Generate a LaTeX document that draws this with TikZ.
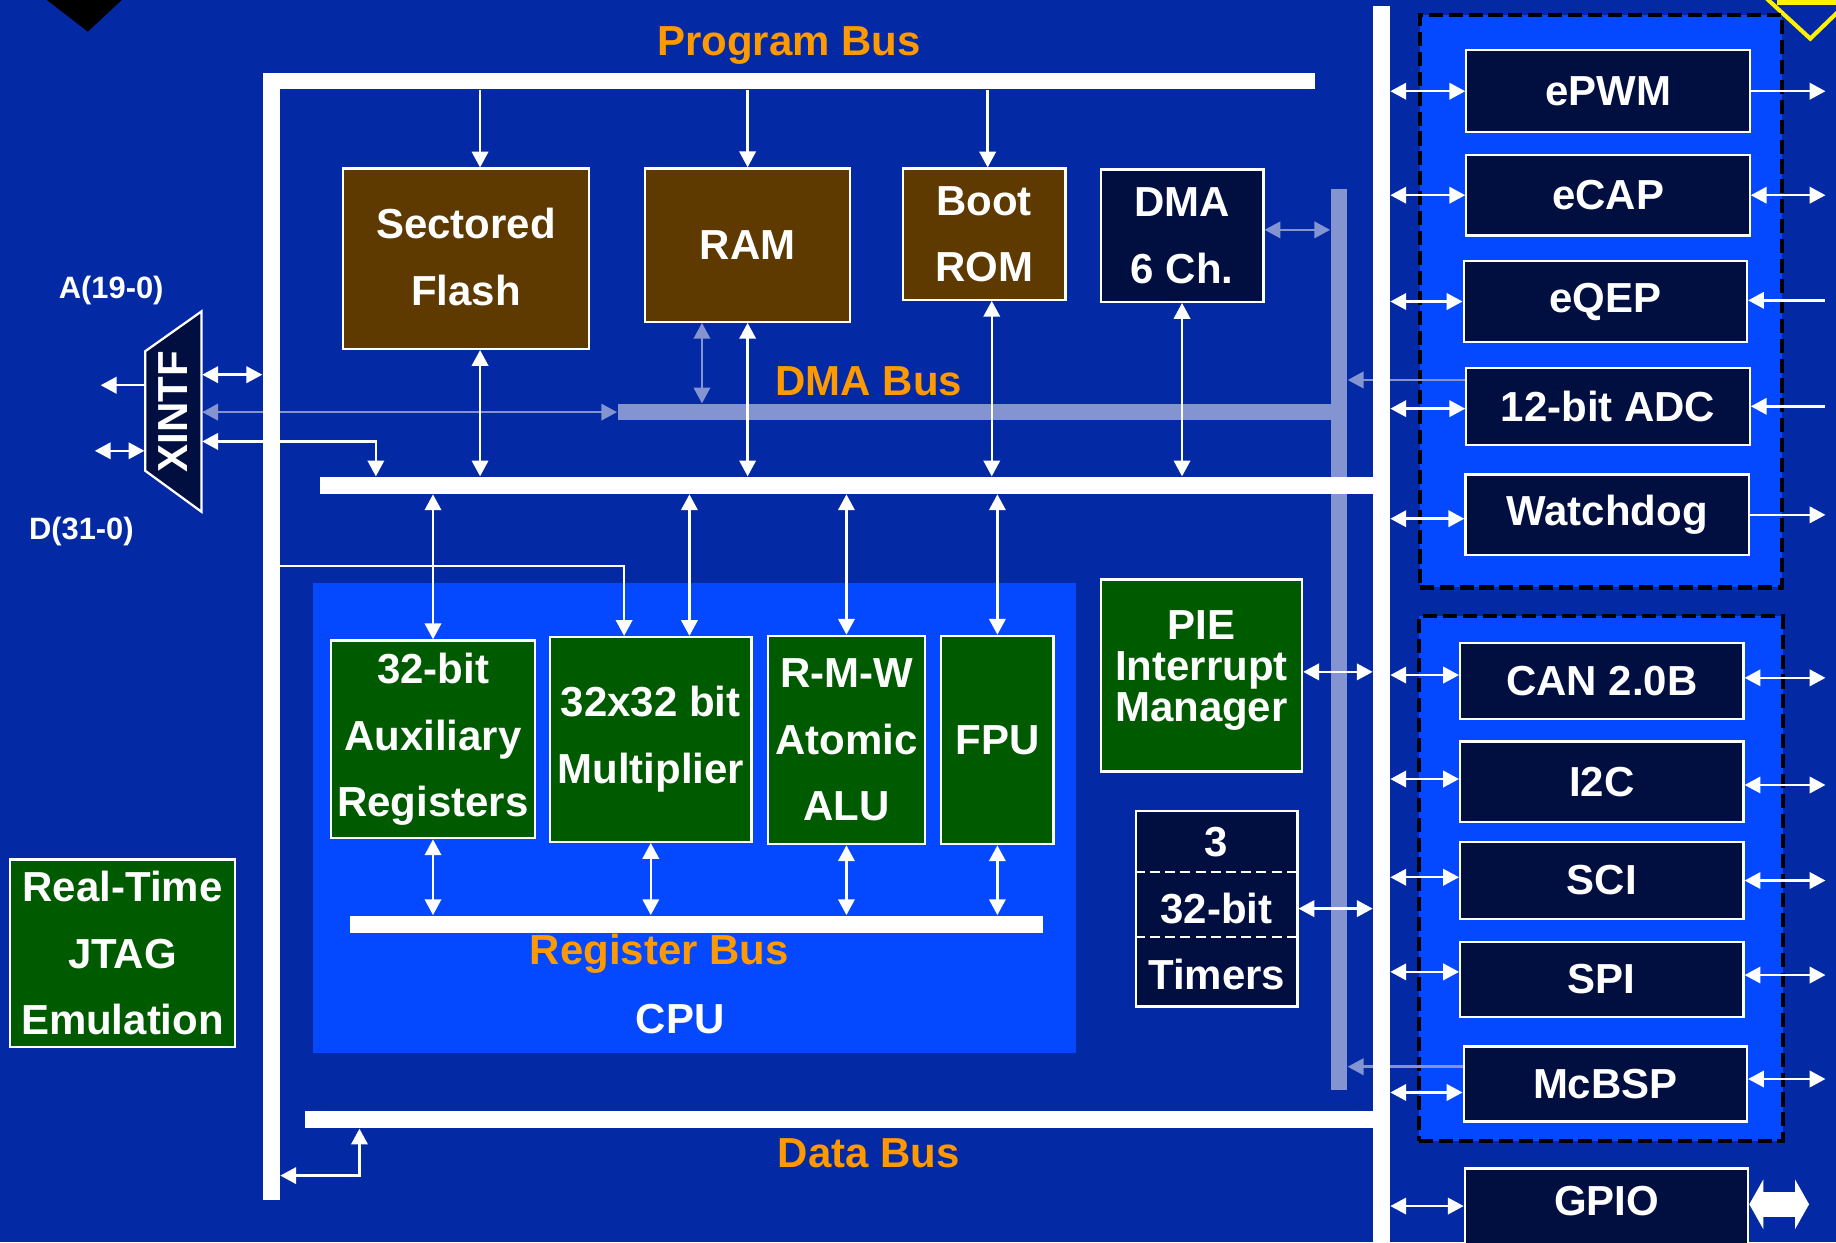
\documentclass[tikz,border=0pt]{standalone}
\usepackage{fontspec}
\setmainfont{Liberation Sans}
\usepackage{graphicx}
\usepackage{tikz}
\usetikzlibrary{arrows.meta, positioning}
\definecolor{bgblue}{HTML}{0429A5}
\definecolor{cpublue}{HTML}{0448FF}
\definecolor{navyblk}{HTML}{000F40}
\definecolor{membrown}{HTML}{5E3A00}
\definecolor{cpugreen}{HTML}{005A00}
\definecolor{busorange}{HTML}{FF9900}
\definecolor{lightbus}{HTML}{8394D0}
\newcommand{\blkfont}{\fontsize{10.2}{16.2}\selectfont\bfseries}

\begin{document}
\begin{tikzpicture}[
    x=0.1mm, y=-0.1mm,
    box/.style={rectangle, draw=white, line width=0.55pt, inner sep=0pt, align=center, text=white, font=\blkfont},
    membox/.style={box, fill=membrown},
    grnbox/.style={box, fill=cpugreen},
    navbox/.style={box, fill=navyblk},
    perbox/.style={navbox, minimum width=24.2mm, minimum height=6.7mm},
    wbus/.style={rectangle, fill=white, inner sep=0pt, anchor=north west},
    lbus/.style={wbus, fill=lightbus},
    grp/.style={rectangle, draw=black, fill=cpublue, line width=1pt, dash pattern=on 1.2mm off 0.5mm, inner sep=0pt},
    arr/.style={-{Triangle[length=1.35mm, width=1.4mm]}, white, line width=0.6pt},
    inarr/.style={{Triangle[length=1.35mm, width=1.4mm]}-, white, line width=0.6pt},
    dbl/.style={{Triangle[length=1.35mm, width=1.4mm]}-{Triangle[length=1.35mm, width=1.4mm]}, white, line width=0.6pt},
    ldbl/.style={dbl, lightbus},
    larr/.style={arr, lightbus},
    fatarr/.style={{Triangle[length=1.2mm, width=4.2mm]}-{Triangle[length=1.2mm, width=4.2mm]}, white, line width=2.1mm},
    tdash/.style={white, line width=0.5pt, dash pattern=on 0.85mm off 0.45mm},
    buslbl/.style={text=busorange, font=\blkfont, inner sep=0pt, anchor=base},
    txtlbl/.style={text=white, font=\blkfont, inner sep=0pt, anchor=base}
]
    \useasboundingbox (0,0) rectangle (1568,1061);
    \clip (0,0) rectangle (1568,1061);
    \fill[bgblue] (0,0) rectangle (1568,1061);

    % Corner marks
    \fill[black] (40,0) -- (104,0) -- (75,27) -- cycle;
    \draw[yellow, line width=1pt] (1508,-2) -- (1546,33) -- (1575,5);
    \fill[yellow] (1518,-1) rectangle (1568,4.5);

    % Frames
    \node[rectangle, fill=cpublue, inner sep=0pt, minimum width=65.2mm, minimum height=40.1mm] (cpu) at (593,698.5) {};
    \node[grp, minimum width=30.95mm, minimum height=48.87mm] (grpa) at (1367.25,257.35) {};
    \node[grp, minimum width=31.05mm, minimum height=44.81mm] (grpb) at (1367.25,750.45) {};

    % DMA Bus
    \node[lbus, minimum width=60.9mm, minimum height=1.35mm] (dmabus) at (527,344.5) {};
    \node[lbus, minimum width=1.36mm, minimum height=76.9mm] (dmavbar) at (1136,160.8) {};

    % XINTF
    \draw[white, fill=navyblk, line width=0.55pt] (124,300) -- (172,266) -- (172,437) -- (124,402) -- cycle;
    \node[inner sep=0pt, minimum width=4.8mm, minimum height=17.1mm, text=white, font=\blkfont] (xintf) at (148,351.5) {\rotatebox{90}{XINTF}};

    % Memory
    \node[membox, minimum width=21mm, minimum height=15.4mm] (flash) at (398,221) {\raisebox{0.3mm}{Sectored}\\\raisebox{0.3mm}{Flash}};
    \node[membox, minimum width=17.5mm, minimum height=13.1mm] (ram) at (638.5,209.3) {RAM};
    \node[membox, minimum width=13.9mm, minimum height=11.2mm] (boot) at (840.5,200) {Boot\\ROM};
    \node[navbox, minimum width=13.9mm, minimum height=11.3mm] (dma) at (1009.5,201.3) {DMA\\6 Ch.};

    % CPU
    \node[grnbox, minimum width=17.4mm, minimum height=16.9mm] (aux) at (369.8,631.4) {32-bit\\Auxiliary\\Registers};
    \node[grnbox, minimum width=17.2mm, minimum height=17.5mm] (mult) at (555.8,631.5) {32x32 bit\\Multiplier};
    \node[grnbox, minimum width=13.4mm, minimum height=17.8mm] (rmw) at (722.9,632) {R-M-W\\Atomic\\ALU};
    \node[grnbox, minimum width=9.6mm, minimum height=17.8mm] (fpu) at (851.8,632) {FPU};

    \node[grnbox, minimum width=17.2mm, minimum height=16.4mm, font=\fontsize{10.2}{10}\selectfont\bfseries] (pie) at (1026,576.8) {PIE\\Interrupt\\Manager\vspace*{0.8mm}};
    \node[navbox, minimum width=13.8mm, minimum height=16.7mm] (timers) at (1039,776) {3\\32-bit\\Timers};
    \draw[tdash] ([yshift=3.16mm]timers.west) -- ([yshift=3.16mm]timers.east);
    \draw[tdash] ([yshift=-2.4mm]timers.west) -- ([yshift=-2.4mm]timers.east);
    \node[grnbox, minimum width=19.2mm, minimum height=16mm] (jtag) at (104.6,814) {Real-Time\\JTAG\\Emulation};

    % Peripherals
    \node[perbox, minimum height=7mm] (epwm) at (1373.3,77.9) {ePWM};
    \node[perbox, minimum height=6.9mm] (ecap) at (1373.3,166.7) {eCAP};
    \node[perbox, minimum height=6.9mm] (eqep) at (1371,257.5) {eQEP};
    \node[perbox, minimum height=6.6mm] (adc) at (1373.3,347) {12-bit ADC};
    \node[perbox, minimum height=6.9mm] (wd) at (1372.5,439.7) {Watchdog};
    \node[perbox, minimum height=6.5mm] (can) at (1368,581.5) {CAN 2.0B};
    \node[perbox, minimum height=6.9mm] (i2c) at (1368,667.7) {I2C};
    \node[perbox, minimum height=6.6mm] (sci) at (1368,752) {SCI};
    \node[perbox, minimum height=6.4mm] (spi) at (1368,836.5) {SPI};
    \node[perbox, minimum height=6.4mm] (mcbsp) at (1371,925.7) {McBSP};
    \node[perbox, minimum height=8mm] (gpio) at (1372,1038) {\raisebox{0pt}[0pt][0pt]{GPIO}};

    % DMA connections
    \coordinate (rl) at ([xshift=-3.9mm]ram.south);
    \draw[ldbl] (rl) -- (rl |- dmabus.north);
    \coordinate (dl) at ([yshift=0.5mm]dma.east);
    \draw[ldbl] (dl) -- (dl -| dmavbar.west);
    \draw[ldbl] (xintf.east |- dmabus.west) -- (dmabus.west);
    \coordinate (al) at ([yshift=2.25mm]adc.west);
    \draw[larr] (al) -- (al -| dmavbar.east);
    \coordinate (ml) at ([yshift=1.47mm]mcbsp.west);
    \draw[larr] (ml) -- (ml -| dmavbar.east);

    % White buses
    \node[wbus, minimum width=89.8mm, minimum height=1.35mm] (pbus) at (224,62) {};
    \node[wbus, minimum width=1.4mm, minimum height=96.2mm] (pvbar) at (224,62) {};
    \node[wbus, minimum width=90mm, minimum height=1.4mm] (mbus) at (273,406.8) {};
    \node[wbus, minimum width=91.3mm, minimum height=1.4mm] (dbus) at (260,948.5) {};
    \node[wbus, minimum width=59.2mm, minimum height=1.42mm] (regbus) at (298,781.5) {};
    \node[wbus, minimum width=1.37mm, minimum height=106mm] (rbus) at (1172.3,4.3) {};

    % Program bus taps
    \coordinate (fl) at ([xshift=1.2mm]flash.north);
    \draw[arr] (fl |- pbus.south) -- (fl);
    \draw[arr] (ram.north |- pbus.south) -- (ram.north);
    \coordinate (bt) at ([xshift=0.3mm]boot.north);
    \draw[arr] (bt |- pbus.south) -- (bt);

    % Memory to main bus
    \draw[dbl] (fl |- flash.south) -- (fl |- mbus.north);
    \draw[dbl] (ram.south) -- (ram.south |- mbus.north);
    \coordinate (bb) at ([xshift=0.65mm]boot.south);
    \draw[dbl] (bb) -- (bb |- mbus.north);
    \draw[dbl] (dma.south) -- (dma.south |- mbus.north);

    % XINTF links
    \coordinate (apin) at (86,329);
    \coordinate (dpin) at (81,385);
    \draw[arr] (xintf.west |- apin) -- (apin);
    \draw[dbl] (dpin) -- (dpin -| xintf.west);
    \coordinate (xp) at ([yshift=3.15mm]xintf.east);
    \draw[dbl] (xp) -- (xp -| pvbar.west);
    \coordinate (xm) at (321,377);
    \draw[dbl] (xintf.east |- xm) -| (xm |- mbus.north);

    % Main bus to CPU
    \draw[dbl] (aux.north |- mbus.south) -- (aux.north);
    \coordinate (mm) at ([xshift=3.3mm]mult.north);
    \draw[dbl] (mm |- mbus.south) -- (mm);
    \draw[dbl] (rmw.north |- mbus.south) -- (rmw.north);
    \draw[dbl] (fpu.north |- mbus.south) -- (fpu.north);
    \coordinate (cl) at (533,483.4);
    \draw[arr] (pvbar.east |- cl) -- (cl) -- (cl |- mult.north);

    % Register bus
    \foreach \blk in {aux, mult, rmw, fpu}
        \draw[dbl] (\blk.south) -- (\blk.south |- regbus.north);

    % PIE and timers
    \coordinate (pe) at ([yshift=0.3mm]pie.east);
    \draw[dbl] (pe) -- (pe -| rbus.west);
    \draw[dbl] (timers.east) -- (timers.east -| rbus.west);

    % Data bus
    \coordinate (db) at (307,1004);
    \draw[dbl] (pvbar.east |- db) -| (db |- dbus.south);

    % Peripheral links
    \foreach \per/\dy in {epwm/0, ecap/0, eqep/0, adc/-0.2, wd/-0.33, can/0.5, i2c/0.24, sci/0.28, spi/0.65, mcbsp/-0.73, gpio/0.8} {
        \coordinate (pl) at ([yshift=\dy mm]\per.west);
        \draw[dbl] (rbus.east |- pl) -- (pl);
    }
    \coordinate (pinr) at (1559,0);
    \foreach \per/\dy/\kind in {epwm/0/arr, ecap/0/dbl, eqep/0.1/inarr, adc/0/inarr, wd/0/arr, can/0.26/dbl, i2c/-0.27/dbl, sci/0/dbl, spi/0.38/dbl, mcbsp/0.42/dbl} {
        \coordinate (pr) at ([yshift=\dy mm]\per.east);
        \draw[\kind] (pr) -- (pr -| pinr);
    }
    \coordinate (gp) at ([yshift=0.95mm]gpio.east);
    \coordinate (gpin) at (1545,0);
    \draw[fatarr] (gp) -- (gp -| gpin);

    % Labels
    \node[buslbl, above=0.6mm of pbus] (proglbl) {Program Bus};
    \node[buslbl] (dmalbl) at (742,337.5) {DMA Bus};
    \node[buslbl] (reglbl) at (563,824) {Register Bus};
    \node[txtlbl] (cpulbl) at (581,882.4) {CPU};
    \node[buslbl] (datalbl) at (742,997) {Data Bus};
    \node[txtlbl, font=\fontsize{7.5}{9}\selectfont\bfseries] (addrlbl) at (95,254.8) {A(19-0)};
    \node[txtlbl, font=\fontsize{7.5}{9}\selectfont\bfseries] (datapin) at (69.5,461) {D(31-0)};
\end{tikzpicture}
\end{document}
